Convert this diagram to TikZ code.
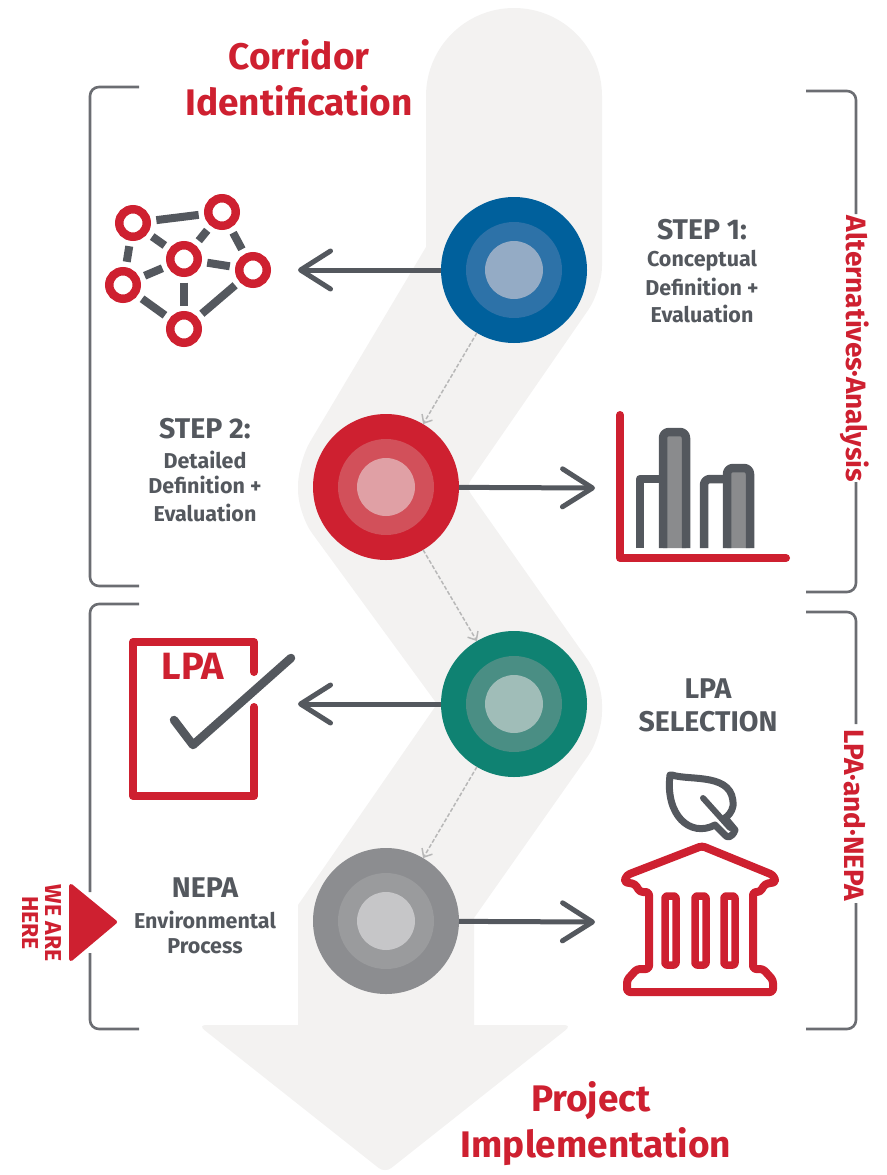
\documentclass[tikz,border=0pt]{standalone}
\usepackage{fontspec}
\usepackage{tikz}
\usetikzlibrary{arrows.meta}
\setmainfont{Fira Sans}

\definecolor{bandgray}{HTML}{F3F2F1}
\definecolor{darkgray}{HTML}{54585E}
\definecolor{brackgray}{HTML}{6B6D72}
\definecolor{dashgray}{HTML}{B8B8B8}
\definecolor{mainred}{HTML}{CE2030}
\definecolor{barfill}{HTML}{8A8B8D}

\definecolor{blueA}{HTML}{00609C}
\definecolor{blueB}{HTML}{2D72A8}
\definecolor{blueC}{HTML}{94ABC5}
\definecolor{redA}{HTML}{CE2030}
\definecolor{redB}{HTML}{D2505A}
\definecolor{redC}{HTML}{E0A0A5}
\definecolor{greenA}{HTML}{0F8272}
\definecolor{greenB}{HTML}{4A8E84}
\definecolor{greenC}{HTML}{A0BDB8}
\definecolor{grayA}{HTML}{8C8D90}
\definecolor{grayB}{HTML}{9A9B9D}
\definecolor{grayC}{HTML}{C6C6C8}

\tikzset{
    disc/.style={circle, inner sep=0pt, outer sep=0pt},
    bigarrow/.style={draw=darkgray, line width=5pt, -{Straight Barb[length=30pt,width=38pt,round]}},
    hoparrow/.style={draw=dashgray, line width=1.5pt, dash pattern=on 4pt off 2pt, -{Straight Barb[length=7pt,width=12pt]}},
    bracket/.style={draw=brackgray, line width=2.6pt, rounded corners=9pt},
    headtext/.style={text=mainred, font=\fontsize{37}{37}\selectfont\bfseries},
    sidetext/.style={text=mainred, rotate=-90, font=\fontsize{28}{28}\selectfont\bfseries},
    steptext/.style={text=darkgray, font=\fontsize{28.5}{28.5}\selectfont\bfseries},
    subtext/.style={text=darkgray, font=\fontsize{21.5}{21.5}\selectfont\bfseries},
    ring/.style={circle, draw=mainred, line width=8.5pt, minimum size=27.5pt, inner sep=0pt},
    netlink/.style={draw=darkgray, line width=8pt, shorten <=5.5pt, shorten >=5.5pt},
    redline/.style={draw=mainred, line width=8pt, line cap=round, line join=round},
    grayline/.style={draw=darkgray, line width=8.5pt, line join=round},
}

\begin{document}
\begin{tikzpicture}[x=1pt,y=-1pt]
    \useasboundingbox (0,0) rectangle (886,1175);

    % band behind the steps
    \fill[bandgray] (426,247) [rounded corners=88pt] -- (426,8) -- (602,8)
        [rounded corners=24pt] -- (602,290) [rounded corners=8pt] -- (466,487)
        [rounded corners=24pt] -- (602,680) -- (602,736)
        [sharp corners] -- (474,918) -- (474,1025)
        [rounded corners=8pt] -- (572,1025) -- (385,1173) -- (198,1025)
        [sharp corners] -- (298,1025) -- (298,905) -- (437,704)
        [rounded corners=24pt] -- (298,514) -- (298,462) [sharp corners] -- cycle;

    % brackets
    \draw[bracket] (139,87) -- (90,87) -- (90,586) -- (139,586);
    \draw[bracket] (139,604) -- (90,604) -- (90,892);
    \draw[bracket] (90,953) -- (90,1029) -- (139,1029);
    \draw[bracket] (806,91) -- (856,91) -- (856,214);
    \draw[bracket] (856,482) -- (856,592) -- (806,592);
    \draw[bracket] (806,612) -- (856,612) -- (856,724);
    \draw[bracket] (856,903) -- (856,1029) -- (806,1029);

    % discs
    \foreach \name/\cx/\cy/\col in {stepone/514/270/blue, steptwo/386/487/red, lpasel/514/704/green, nepa/386/921/gray} {
        \node[disc, fill=\col A, minimum size=146pt] (\name) at (\cx,\cy) {};
        \node[disc, fill=\col B, minimum size=96pt] (\name mid) at (\cx,\cy) {};
        \node[disc, fill=\col C, minimum size=58pt] (\name core) at (\cx,\cy) {};
    }

    % arrows
    \coordinate (netend) at (298,270);
    \coordinate (chartend) at (595,488);
    \coordinate (checkend) at (298,704);
    \coordinate (buildend) at (595,922);
    \draw[bigarrow] (stepone) -- (netend);
    \draw[bigarrow] (steptwo) -- (chartend);
    \draw[bigarrow] (lpasel) -- (checkend);
    \draw[bigarrow] (nepa) -- (buildend);
    \draw[hoparrow] (stepone) -- (steptwo);
    \draw[hoparrow] (steptwo) -- (lpasel);
    \draw[hoparrow] (lpasel) -- (nepa);

    % titles
    \node[headtext] (corridor) at (299,55) {Corridor};
    \node[headtext] (identif) at (299,101) {Identification};
    \node[headtext] (project) at (591,1101) {Project};
    \node[headtext] (implem) at (596,1147) {Implementation};
    \node[sidetext] (altlabel) at (855,349) {Alternatives·Analysis};
    \node[sidetext] (lpalabel) at (855,815) {LPA·and·NEPA};

    % step labels
    \node[steptext] (stepa) at (702,230) {STEP 1:};
    \node[subtext] (stepb) at (702,261) {Conceptual};
    \node[subtext] (stepc) at (702,287) {Definition +};
    \node[subtext] (stepd) at (702,314) {Evaluation};
    \node[steptext] (stepe) at (205,429) {STEP 2:};
    \node[subtext] (stepf) at (205,460) {Detailed};
    \node[subtext] (stepg) at (205,485) {Definition +};
    \node[subtext] (steph) at (205,513) {Evaluation};
    \node[steptext] (lpaa) at (708,689) {LPA};
    \node[steptext] (lpab) at (708,722) {SELECTION};
    \node[steptext] (nepaa) at (205,888) {NEPA};
    \node[subtext] (nepab) at (205,920) {Environmental};
    \node[subtext] (nepac) at (205,946) {Process};

    % we are here
    \fill[mainred, draw=mainred, line width=4pt, line join=round] (71,886) -- (115,922) -- (71,959) -- cycle;
    \node[text=mainred, rotate=-90, align=center, font=\fontsize{23}{23}\selectfont\bfseries] (here) at (42,923) {WE ARE\\HERE};

    % network icon
    \node[ring] (na) at (133,223) {};
    \node[ring] (nb) at (222,212) {};
    \node[ring] (nc) at (184,259) {};
    \node[ring] (nd) at (253,270) {};
    \node[ring] (ne) at (123,285) {};
    \node[ring] (nf) at (184,329) {};
    \foreach \a/\b in {na/nb, na/nc, na/ne, nb/nc, nb/nd, nc/nd, nc/ne, nc/nf, ne/nf, nd/nf}
        \draw[netlink] (\a) -- (\b);

    % chart icon
    \draw[grayline] (640,548) -- (640,479) [rounded corners=6pt] -- (663,479);
    \draw[grayline, fill=barfill, rounded corners=6pt] (663,548) -- (663,432) -- (686,432) -- (686,548);
    \draw[grayline, rounded corners=6pt] (704,548) -- (704,479) -- (727,479);
    \draw[grayline, fill=barfill, rounded corners=6pt] (727,548) -- (727,468) -- (750,468) -- (750,548);
    \draw[redline] (620,415) -- (620,558) -- (786,558);

    % check icon
    \draw[redline] (254,672) -- (254,642) -- (133,642) -- (133,796) -- (254,796) -- (254,707);
    \node[text=mainred, font=\fontsize{38}{38}\selectfont\bfseries] (lpamark) at (193,666) {LPA};
    \draw[grayline, line cap=round] (174,720) -- (193,745) -- (291,658);

    % leaf and building icon
    \draw[grayline, line width=7pt] (672,775) .. controls (690,781) and (735,772) .. (733,806)
        .. controls (732,812) and (728,816) .. (725,818) -- (735,830) .. controls (732,838) and (727,838) .. (725,835)
        -- (715,825) .. controls (690,838) and (665,815) .. (670,775) -- cycle;
    \draw[draw=darkgray, line width=6pt, line cap=round] (703,798) -- (730,828);
    \draw[redline, rounded corners=3pt] (702,846) -- (773,875) -- (776,882) -- (765,884) -- (760,892) -- (753,892)
        -- (753,969) -- (763,969) -- (773,980) -- (773,992) -- (627,992) -- (627,980) -- (637,969) -- (649,969)
        -- (649,892) -- (640,892) -- (635,884) -- (624,882) -- (627,875) -- cycle;
    \foreach \colx in {665,695,724}
        \draw[redline, line width=7.5pt, rounded corners=2pt] (\colx,896) rectangle (\colx+11,965);
\end{tikzpicture}
\end{document}
